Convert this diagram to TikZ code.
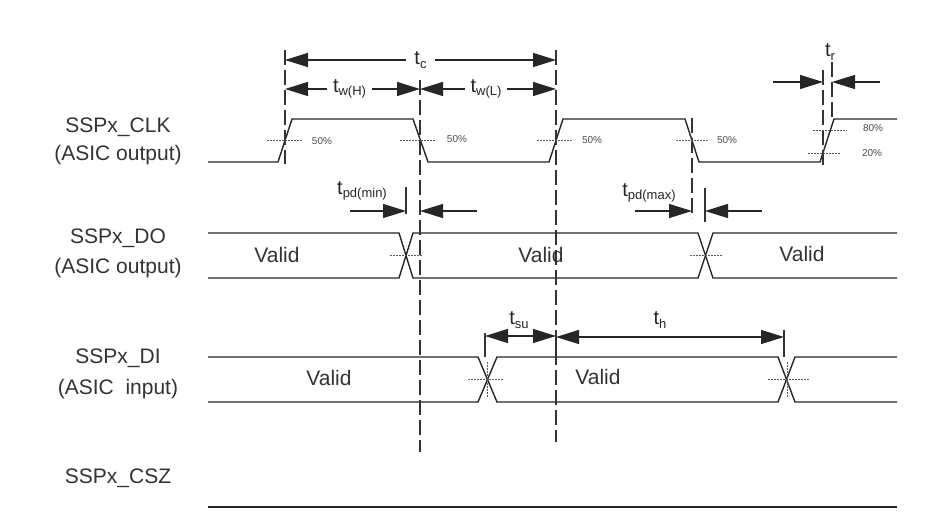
\documentclass[tikz,border=0pt]{standalone}
\usepackage{fontspec}
\setmainfont{Liberation Sans}
\usetikzlibrary{arrows.meta}
\newcommand{\tsb}[1]{t\raisebox{-0.35ex}{\fontsize{13}{14}\selectfont #1}}
\begin{document}
\begin{tikzpicture}[x=1pt,y=-1pt,
 sig/.style={line width=1.4pt, draw=black!85},
 guide/.style={line width=1.2pt, draw=black!80, dash pattern=on 15pt off 5pt},
 solidv/.style={line width=1.2pt, draw=black!80},
 dotl/.style={line width=0.7pt, draw=black!65, dash pattern=on 1.5pt off 1.5pt},
 dimarr/.style={line width=1.3pt, draw=black!85, {Triangle[length=23pt,width=14pt]}-{Triangle[length=23pt,width=14pt]}},
 onearr/.style={line width=1.3pt, draw=black!85, -{Triangle[length=23pt,width=14pt]}},
 lbl/.style={font=\fontsize{21}{24}\selectfont, text=black!80, align=center},
 tl/.style={font=\fontsize{20}{24}\selectfont, text=black!85, inner sep=1pt},
 pct/.style={font=\fontsize{10}{11}\selectfont, text=black!70},
]
\useasboundingbox[fill=white] (0,0) rectangle (931,529);

% signal labels
\node[lbl] (lclk) at (118,127) {SSPx\_CLK};
\node[lbl] (lclk2) at (118,155) {(ASIC output)};
\node[lbl] (ldo) at (118,238) {SSPx\_DO};
\node[lbl] (ldo2) at (118,268) {(ASIC output)};
\node[lbl] (ldi) at (118,358) {SSPx\_DI};
\node[lbl] (ldi2) at (118,389) {(ASIC\ \ input)};
\node[lbl] (lcsz) at (118,478) {SSPx\_CSZ};

% CLK waveform
\draw[sig] (208,162) -- (278,162) -- (292,119) -- (413,119) -- (428,162) -- (549,162) -- (563,119) -- (685,119) -- (699,162) -- (820,162) -- (834,119) -- (897,119);

% DO bus
\draw[sig] (208,233) -- (399,233) -- (413,278) -- (698,278) -- (713,233) -- (897,233);
\draw[sig] (208,278) -- (399,278) -- (413,233) -- (698,233) -- (713,278) -- (897,278);

% DI bus
\draw[sig] (208,357) -- (478,357) -- (497,402) -- (778,402) -- (795,357) -- (897,357);
\draw[sig] (208,402) -- (478,402) -- (497,357) -- (778,357) -- (795,402) -- (897,402);

% CSZ
\draw[sig] (208,507) -- (897,507);

% guide lines
\draw[guide] (285,50) -- (285,164);
\draw[guide] (420,80) -- (420,452);
\draw[guide] (556,50) -- (556,442);
\draw[guide] (692,118) -- (692,218);
\draw[guide] (823,70) -- (823,168);
\draw[guide] (832,62) -- (832,120);
\draw[solidv] (406,187) -- (406,214);
\draw[solidv] (705,188) -- (705,222);
\draw[solidv] (485,333) -- (485,357);
\draw[solidv] (556,333) -- (556,357);
\draw[solidv] (784,330) -- (784,357);

% 50% markers
\draw[dotl] (267,140) -- (302,140);
\draw[dotl] (400,140) -- (435,140);
\draw[dotl] (537,140) -- (572,140);
\draw[dotl] (676,140) -- (708,140);
\node[pct] (p1) at (322,141) {50\%};
\node[pct] (p2) at (457,139) {50\%};
\node[pct] (p3) at (592,140) {50\%};
\node[pct] (p4) at (727,140) {50\%};
\draw[dotl] (813,130) -- (847,130);
\draw[dotl] (808,153) -- (840,153);
\node[pct] (p80) at (873,128) {80\%};
\node[pct] (p20) at (872,153) {20\%};

% cross markers
\draw[dotl] (390,255) -- (422,255);
\draw[dotl] (690,255) -- (722,255);
\draw[dotl] (468,379) -- (503,379);
\draw[dotl] (768,379) -- (810,379);
\draw[dotl] (487,362) -- (487,398);
\draw[dotl] (787,362) -- (787,398);

% data labels
\node[lbl] (v1) at (277,255) {Valid};
\node[lbl] (v2) at (541,255) {Valid};
\node[lbl] (v3) at (802,254) {Valid};
\node[lbl] (v4) at (329,378) {Valid};
\node[lbl] (v5) at (598,377) {Valid};

% t_c, t_w
\draw[dimarr] (285,60) -- node[tl, fill=white, inner xsep=8pt] (tc) {\tsb{c}} (556,60);
\draw[dimarr] (285,89) -- node[tl, fill=white, inner xsep=6pt, xshift=-3pt] (twh) {\tsb{w(H)}} (420,89);
\draw[dimarr] (420,89) -- node[tl, fill=white, inner xsep=6pt, xshift=-2pt] (twl) {\tsb{w(L)}} (556,89);

% t_r
\node[tl] (tr) at (830,52) {\tsb{r}};
\draw[onearr] (773,82) -- (823,82);
\draw[onearr] (880,82) -- (832,82);

% t_pd(min)
\node[tl] (tpdmin) at (362,191) {\tsb{pd(min)}};
\draw[onearr] (350,211) -- (406,211);
\draw[onearr] (477,211) -- (420,211);

% t_pd(max)
\node[tl] (tpdmax) at (649,193) {\tsb{pd(max)}};
\draw[onearr] (635,211) -- (692,211);
\draw[onearr] (762,211) -- (705,211);

% t_su, t_h
\draw[dimarr] (485,336) -- (556,336);
\node[tl] (tsu) at (519,320) {\tsb{su}};
\draw[dimarr] (556,337) -- (784,337);
\node[tl] (th) at (660,320) {\tsb{h}};
\end{tikzpicture}
\end{document}
